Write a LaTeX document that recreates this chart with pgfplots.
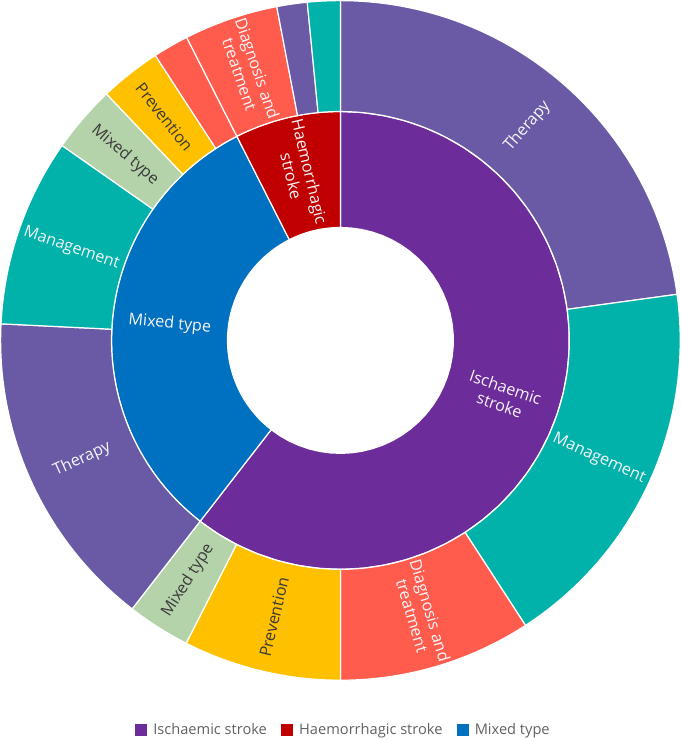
\documentclass[border=0pt]{standalone}
\usepackage{pgfplots}
\pgfplotsset{compat=1.18}
\usepackage{fontspec}
\setmainfont{Open Sans}
\definecolor{cIsch}{HTML}{6C2D9B}
\definecolor{cHaem}{HTML}{C00000}
\definecolor{cMix}{HTML}{0070C0}
\definecolor{oTher}{HTML}{6A5AA6}
\definecolor{oMan}{HTML}{00B2AA}
\definecolor{oDiag}{HTML}{FF5C4D}
\definecolor{oPrev}{HTML}{FFC000}
\definecolor{oMix}{HTML}{B5D3AA}
\definecolor{txtdark}{HTML}{3A3A3A}
% #1 start angle, #2 end angle (clockwise from top), #3 inner radius, #4 outer radius, #5 colour
\newcommand{\ringwedge}[5]{%
\addplot[fill=#5, draw=white, line width=1.2pt, variable=\t, samples at={0,1,...,81}, forget plot]
 ({((\t<40.5)?(#4):(#3))*sin((\t<40.5)?(#1+(#2-#1)*\t/40):(#2-(#2-#1)*(\t-41)/40))},
  {((\t<40.5)?(#4):(#3))*cos((\t<40.5)?(#1+(#2-#1)*\t/40):(#2-(#2-#1)*(\t-41)/40))}) -- cycle;
}
\tikzset{
  lbl/.style={font=\fontsize{16}{18.5}\selectfont, align=center, text=white!94!oTher, inner sep=0pt},
  lbd/.style={font=\fontsize{16}{18.5}\selectfont, align=center, text=txtdark, inner sep=0pt},
}
\begin{document}
\begin{tikzpicture}
\begin{axis}[
  x=1pt, y=1pt, scale only axis,
  xmin=-343, xmax=342, ymin=-399, ymax=341,
  hide axis, clip=false,
  legend columns=3,
  legend image code/.code={\fill[#1, draw=none] (0pt,-6pt) rectangle (12pt,6pt); \path[draw=none, fill=none] (0pt,0pt) -- (16pt,0pt);},
  legend style={at={(axis cs:3,-386)}, anchor=center, draw=none, fill=none,
    font=\fontsize{14.5}{16}\selectfont, text=black!62,
    /tikz/every even column/.append style={column sep=12pt}},
]
\addlegendimage{fill=cIsch, draw=none}\addlegendentry{Ischaemic stroke}
\addlegendimage{fill=cHaem, draw=none}\addlegendentry{Haemorrhagic stroke}
\addlegendimage{fill=cMix, draw=none}\addlegendentry{Mixed type}
% inner ring
\ringwedge{0}{217.8}{112}{227}{cIsch}
\ringwedge{217.8}{333.1}{112}{227}{cMix}
\ringwedge{333.1}{360}{112}{227}{cHaem}
% outer ring: Ischaemic stroke
\ringwedge{0}{82.2}{227}{337}{oTher}
\ringwedge{82.2}{147}{227}{337}{oMan}
\ringwedge{147}{180}{227}{337}{oDiag}
\ringwedge{180}{207}{227}{337}{oPrev}
\ringwedge{207}{217.8}{227}{337}{oMix}
% outer ring: Mixed type
\ringwedge{217.8}{272.8}{227}{337}{oTher}
\ringwedge{272.8}{305}{227}{337}{oMan}
\ringwedge{305}{316.5}{227}{337}{oMix}
\ringwedge{316.5}{327}{227}{337}{oPrev}
\ringwedge{327}{333.1}{227}{337}{oDiag}
% outer ring: Haemorrhagic stroke
\ringwedge{333.1}{349.2}{227}{337}{oDiag}
\ringwedge{349.2}{354.4}{227}{337}{oTher}
\ringwedge{354.4}{360}{227}{337}{oMan}
% labels outer
\node[lbl, rotate=48.9]  at (axis cs:{282*sin(41.1)},{282*cos(41.1)}) {Therapy};
\node[lbl, rotate=-24.6] at (axis cs:{282*sin(114.6)},{282*cos(114.6)}) {Management};
\node[lbl, rotate=-73.5] at (axis cs:{282*sin(163.5)},{282*cos(163.5)}) {Diagnosis and\\treatment};
\node[lbd, rotate=76.5]  at (axis cs:{282*sin(193.5)},{282*cos(193.5)}) {Prevention};
\node[lbd, rotate=57.6]  at (axis cs:{282*sin(212.4)},{282*cos(212.4)}) {Mixed type};
\node[lbl, rotate=24.7]  at (axis cs:{282*sin(245.3)},{282*cos(245.3)}) {Therapy};
\node[lbl, rotate=-18.9] at (axis cs:{282*sin(288.9)},{282*cos(288.9)}) {Management};
\node[lbd, rotate=-40.75] at (axis cs:{282*sin(310.75)},{282*cos(310.75)}) {Mixed type};
\node[lbd, rotate=-51.75] at (axis cs:{282*sin(321.75)},{282*cos(321.75)}) {Prevention};
\node[lbl, rotate=-71.15] at (axis cs:{282*sin(341.15)},{282*cos(341.15)}) {Diagnosis and\\treatment};
% labels inner
\node[lbl, rotate=-18.9] at (axis cs:{170*sin(108.9)},{170*cos(108.9)}) {Ischaemic\\stroke};
\node[lbl, rotate=-5.45] at (axis cs:{170*sin(275.45)},{170*cos(275.45)}) {Mixed type};
\node[lbl, rotate=-76.55] at (axis cs:{170*sin(346.55)},{170*cos(346.55)}) {Haemorrhagic\\stroke};
\end{axis}
\end{tikzpicture}
\end{document}
